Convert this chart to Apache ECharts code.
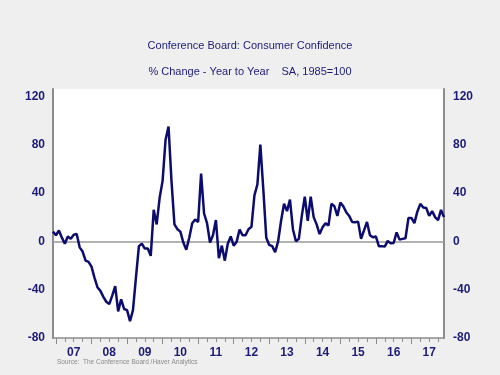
<!DOCTYPE html>
<html>
<head>
<meta charset="utf-8">
<script src="https://cdn.jsdelivr.net/npm/echarts@6/dist/echarts.min.js"></script>
<style>
  html, body { margin: 0; padding: 0; background: #efefef; }
  #chart { width: 500px; height: 375px; }
</style>
</head>
<body>
<div id="chart"></div>
<script>
// monthly, Dec 2006 .. Dec 2017
var startYear = 2006, startMonth = 12;
var yTicks = [-80, -40, 0, 40, 80, 120];
var confidence = [
  8, 5, 9, 3, -2, 4, 2, 5.5, 6, -5, -8.5, -16, -17, -21, -30, -38, -41, -46, -50, -52,
  -45, -37, -58, -48, -56, -57, -66, -57, -30, -4, -2, -6, -6, -12, 26, 14, 36, 50, 84, 95,
  50, 14, 10, 8, -1, -7, 3, 15, 18, 16, 56, 23, 15, -1, 5, 17.6, -14, -3.6, -16, -2,
  4, -3.6, -0.3, 9.7, 5, 5, 10, 12, 38, 47, 80, 43, 3, -3, -4, -9, 0, 17, 31, 25,
  34.5, 10, 0, 2, 21, 37, 17, 37, 20, 14, 6, 11.6, 15, 13, 31, 29, 21, 32, 29, 24,
  21, 16, 15.7, 16.3, 2, 9, 16, 5, 3.3, 4, -4, -4, -4.4, 0.3, -1.7, -1.4, 7.4, 1.4, 2, 2.5,
  19.3, 19.3, 15, 24.5, 31, 28, 27.5, 21, 25, 20, 17.6, 26, 20
];

var months = [];
for (var i = 0; i < confidence.length; i++) {
  var m = (startMonth - 1 + i) % 12 + 1;
  var y = startYear + Math.floor((startMonth - 1 + i) / 12);
  months.push(y + '-' + (m < 10 ? '0' + m : m));
}
function monthOf(label) { return parseInt(label.split('-')[1], 10); }

var navy = '#1c1c78';
var axisGray = '#8c8c8c';

var yLabel = {
  color: navy, fontSize: 12, fontWeight: 'bold', fontFamily: 'Liberation Sans, Arial',
  formatter: function (v) { return yTicks.indexOf(v) >= 0 ? String(v) : ''; }
};

var chart = echarts.init(document.getElementById('chart'));
chart.setOption({
  backgroundColor: '#efefef',
  animation: false,
  title: [{
    text: 'Conference Board: Consumer Confidence',
    left: 'center', top: 35,
    textStyle: { color: navy, fontSize: 11, fontWeight: 'normal', fontFamily: 'Liberation Sans, Arial' }
  }, {
    text: '% Change - Year to Year    SA, 1985=100',
    left: 'center', top: 61,
    textStyle: { color: navy, fontSize: 11, fontWeight: 'normal', fontFamily: 'Liberation Sans, Arial' }
  }, {
    text: 'Source:  The Conference Board /Haver Analytics',
    left: 52, top: 354,
    textStyle: { color: '#8a8a8a', fontSize: 6.5, fontWeight: 'normal', fontFamily: 'Liberation Sans, Arial' }
  }],
  grid: {
    left: 53, right: 56, top: 89, bottom: 37,
    show: true, backgroundColor: '#ffffff', borderWidth: 0
  },
  xAxis: [{
    type: 'category',
    data: months,
    boundaryGap: false,
    axisLine: { onZero: false, lineStyle: { color: axisGray, width: 1.5 } },
    axisTick: {
      length: 6,
      lineStyle: { color: axisGray },
      interval: function (idx, val) { return monthOf(val) === 1; }
    },
    axisLabel: {
      color: navy, fontSize: 12, fontWeight: 'bold', fontFamily: 'Liberation Sans, Arial',
      margin: 9,
      interval: function (idx, val) { return monthOf(val) === 7; },
      formatter: function (val) { return val.substr(2, 2); }
    },
    splitLine: { show: false }
  }, {
    type: 'category',
    data: months,
    boundaryGap: false,
    position: 'bottom',
    axisLine: { show: false, onZero: false },
    axisTick: {
      length: 4,
      lineStyle: { color: axisGray },
      interval: function (idx, val) { return (monthOf(val) - 1) % 3 === 0; }
    },
    axisLabel: { show: false }
  }],
  yAxis: [{
    type: 'value', position: 'left',
    min: -80, max: 126, interval: 40,
    axisLine: { show: true, lineStyle: { color: axisGray, width: 2 } },
    axisTick: { show: false },
    splitLine: { show: false },
    axisLabel: Object.assign({ margin: 8 }, yLabel)
  }, {
    type: 'value', position: 'right',
    min: -80, max: 126, interval: 40,
    axisLine: { show: true, lineStyle: { color: axisGray, width: 2 } },
    axisTick: { show: false },
    splitLine: { show: false },
    axisLabel: Object.assign({ margin: 9 }, yLabel)
  }],
  series: [{
    name: 'Consumer Confidence',
    type: 'line',
    data: confidence,
    showSymbol: false,
    lineStyle: { color: '#0c0c6e', width: 2.5 },
    itemStyle: { color: '#0c0c6e' },
    z: 3,
    markLine: {
      silent: true,
      symbol: 'none',
      label: { show: false },
      lineStyle: { color: '#999999', width: 1.5, type: 'solid' },
      data: [{ yAxis: 0 }],
      z: 1
    }
  }]
});
</script>
</body>
</html>
